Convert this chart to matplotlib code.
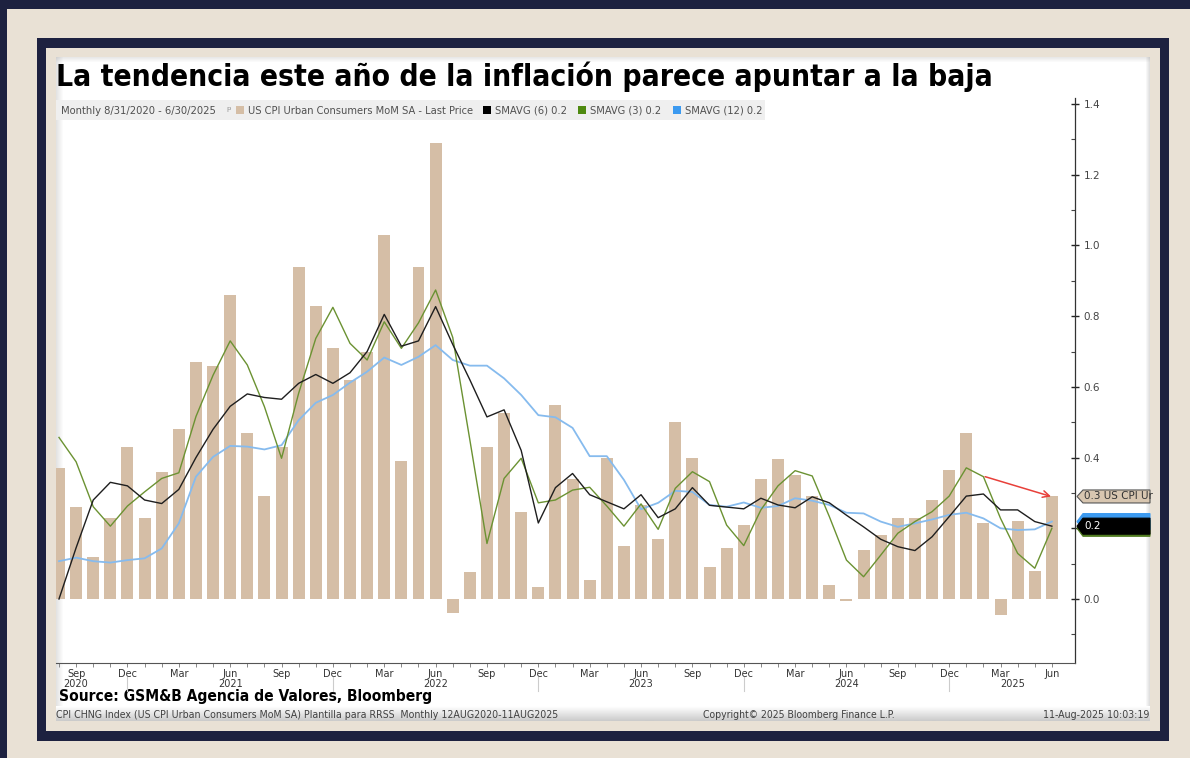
import matplotlib
matplotlib.use("Agg")
import matplotlib.pyplot as plt
import numpy as np
import pandas as pd
from matplotlib.patches import Rectangle, Polygon
from matplotlib.transforms import blended_transform_factory
from matplotlib.ticker import FixedLocator, MultipleLocator

# ---------------- data ----------------
months = pd.date_range("2020-08-31", periods=59, freq="ME")

cpi_mom = [0.37, 0.26, 0.12, 0.23, 0.43,
           0.23, 0.36, 0.48, 0.67, 0.66, 0.86, 0.47, 0.29, 0.43, 0.94, 0.83, 0.71,
           0.62, 0.70, 1.03, 0.39, 0.94, 1.29, -0.04, 0.075, 0.43, 0.525, 0.245, 0.035,
           0.55, 0.34, 0.055, 0.40, 0.15, 0.265, 0.17, 0.50, 0.40, 0.09, 0.145, 0.21,
           0.34, 0.395, 0.35, 0.29, 0.04, -0.005, 0.14, 0.18, 0.23, 0.23, 0.28, 0.365,
           0.47, 0.215, -0.045, 0.22, 0.08, 0.29]

sma6 = [0.00, 0.145, 0.28, 0.33, 0.32,
        0.28, 0.27, 0.31, 0.40, 0.48, 0.545, 0.58, 0.57, 0.565, 0.61, 0.635, 0.61,
        0.64, 0.70, 0.805, 0.715, 0.73, 0.827, 0.72, 0.62, 0.515, 0.535, 0.42, 0.215,
        0.315, 0.355, 0.295, 0.275, 0.255, 0.295, 0.23, 0.255, 0.315, 0.265, 0.26, 0.255,
        0.285, 0.266, 0.258, 0.289, 0.272, 0.237, 0.204, 0.169, 0.148, 0.137, 0.176, 0.233,
        0.291, 0.297, 0.252, 0.252, 0.219, 0.206]

sma3 = [0.457, 0.388, 0.261, 0.206, 0.263,
        0.303, 0.341, 0.357, 0.516, 0.633, 0.730, 0.662, 0.544, 0.398, 0.582, 0.737, 0.825,
        0.723, 0.676, 0.784, 0.709, 0.781, 0.874, 0.74, 0.45, 0.157, 0.341, 0.398, 0.272,
        0.280, 0.308, 0.316, 0.263, 0.206, 0.269, 0.197, 0.313, 0.360, 0.332, 0.209, 0.151,
        0.252, 0.320, 0.363, 0.348, 0.233, 0.110, 0.063, 0.124, 0.186, 0.219, 0.247, 0.291,
        0.371, 0.346, 0.228, 0.129, 0.087, 0.200]

sma12 = [0.107, 0.117, 0.107, 0.103, 0.110,
         0.115, 0.143, 0.214, 0.346, 0.402, 0.433, 0.431, 0.423, 0.435, 0.506, 0.555, 0.577,
         0.612, 0.643, 0.683, 0.662, 0.685, 0.718, 0.676, 0.660, 0.660, 0.624, 0.577, 0.520,
         0.514, 0.484, 0.404, 0.404, 0.337, 0.254, 0.272, 0.306, 0.303, 0.266, 0.261, 0.273,
         0.258, 0.263, 0.285, 0.278, 0.266, 0.244, 0.242, 0.219, 0.204, 0.214, 0.225, 0.238,
         0.244, 0.228, 0.200, 0.195, 0.197, 0.219]

y_ticks = [0.0, 0.2, 0.4, 0.6, 0.8, 1.0, 1.2, 1.4]
arrow_from = (54.1, 0.346)   # (month index, value)
arrow_to = (57.95, 0.29)

title = "La tendencia este año de la inflación parece apuntar a la baja"
legend_period = "Monthly 8/31/2020 - 6/30/2025"
legend_labels = ["US CPI Urban Consumers MoM SA - Last Price", "SMAVG (6) 0.2",
                 "SMAVG (3) 0.2", "SMAVG (12) 0.2"]
source = "Source: GSM&B Agencia de Valores, Bloomberg"
footer_left = "CPI CHNG Index (US CPI Urban Consumers MoM SA) Plantilla para RRSS  Monthly 12AUG2020-11AUG2025"
footer_mid = "Copyright\u00a9 2025 Bloomberg Finance L.P."
footer_right = "11-Aug-2025 10:03:19"

# ---------------- style ----------------
C_BAR = "#d5bea6"
C_BLACK = "#1e1e1e"
C_GREEN = "#6b9232"
C_BLUE = "#86bbee"
C_RED = "#e8403a"
C_NAVY = "#1d2140"
C_BEIGE = "#e9e1d5"
W, H = 1190, 758

fig = plt.figure(figsize=(W / 100, H / 100), dpi=100)
fig.patch.set_facecolor(C_BEIGE)
renderer = fig.canvas.get_renderer()

# background / frame axes in pixel coordinates
bg = fig.add_axes([0, 0, 1, 1], zorder=-5)
bg.set_xlim(0, W)
bg.set_ylim(H, 0)
bg.axis("off")

def rect(x0, y0, x1, y1, color, **kw):
    bg.add_patch(Rectangle((x0, y0), x1 - x0, y1 - y0, facecolor=color,
                           edgecolor="none", **kw))

rect(0, 0, W, H, C_BEIGE)
rect(0, 0, 7, H, C_NAVY)
rect(0, 0, W, 9, C_NAVY)
rect(37, 38, 1169, 741, C_NAVY)
rect(46, 48, 1160, 731, C_BEIGE)
rect(56, 57, 1150, 721, "white")
# soft shadows on panel edges
for i in range(7):
    a = 0.22 * (1 - i / 7)
    rect(56 + i, 57, 57 + i, 721, "#808080", alpha=a)
for i in range(5):
    a = 0.18 * (1 - i / 5)
    rect(56, 57 + i, 1150, 58 + i, "#808080", alpha=a)
for i in range(4):
    a = 0.25 * (1 - i / 4)
    rect(1149 - i, 57, 1150 - i, 721, "#808080", alpha=a)
# footer gradient strip
grad = np.linspace(1.0, 0.80, 15).reshape(-1, 1)
bg.imshow(np.dstack([grad, grad, grad]), extent=[56, 1150, 721, 706], aspect="auto",
          interpolation="bilinear", zorder=1)
# legend strip
rect(56, 100, 765, 120, "#efefef", zorder=1)

def fit_text(x, y, s, width_px, size0=10, **kw):
    t = bg.text(x, y, s, fontsize=size0, zorder=3, **kw)
    w = t.get_window_extent(renderer).width
    t.set_fontsize(size0 * width_px / w)
    return t

COND = dict(family="DejaVu Sans", stretch="condensed")

fit_text(56, 86, title, 937, 20, fontweight="bold", color="black", va="baseline", **COND)

fit_text(61, 110.5, legend_period, 156, 8, color="#505050", va="center", **COND)
bg.text(229, 110.5, "\u1d56", fontsize=8, color="#909090", va="center", ha="center", zorder=3)
leg_x = [(236, 248, 223), (483, 495, 72), (578, 590, 71), (673, 685, 78)]
leg_c = [C_BAR, "#000000", "#4f8a10", "#3c9af0"]
for (sx, tx, tw), col, lab in zip(leg_x, leg_c, legend_labels):
    rect(sx, 106, sx + 8, 114, col, zorder=2)
    fit_text(tx, 110.5, lab, tw, 8, color="#505050", va="center", **COND)

fit_text(59, 697, source, 372, 12, fontweight="bold", color="black", va="center", **COND)
fit_text(56, 715, footer_left, 501, 7, color="#404040", va="center", **COND)
fit_text(703, 715, footer_mid, 194, 7, color="#404040", va="center", **COND)
fit_text(1043, 715, footer_right, 106, 7, color="#404040", va="center", **COND)

# ---------------- main chart ----------------
ax_left, ax_right, ax_top, ax_bot = 56, 1075, 98, 663
ax = fig.add_axes([ax_left / W, (H - ax_bot) / H, (ax_right - ax_left) / W,
                   (ax_bot - ax_top) / H], zorder=2)
ax.set_facecolor("none")

x = np.arange(len(months))
ax.bar(x, cpi_mom, width=0.7, color=C_BAR, zorder=2)
ax.plot(x, sma12, color=C_BLUE, lw=1.3, zorder=3)
ax.plot(x, sma3, color=C_GREEN, lw=1.0, zorder=4)
ax.plot(x, sma6, color=C_BLACK, lw=1.0, zorder=5)

ax.annotate("", xy=arrow_to, xytext=arrow_from,
            arrowprops=dict(arrowstyle="->", color=C_RED, lw=1.1,
                            mutation_scale=12, shrinkA=0, shrinkB=0), zorder=6)

ax.set_xlim(-0.175, 59.35)
ax.set_ylim(-0.181, 1.417)

for sp in ["left", "top"]:
    ax.spines[sp].set_visible(False)
ax.spines["right"].set_color("#333333")
ax.spines["bottom"].set_color("#555555")
ax.spines["right"].set_linewidth(0.9)
ax.spines["bottom"].set_linewidth(0.8)

# the 0.2 tick label is hidden behind the last-value tags in the reference
ax.yaxis.tick_right()
ax.set_yticks(y_ticks)
ax.set_yticklabels(["" if abs(v - 0.2) < 1e-9 else f"{v:.1f}" for v in y_ticks])
ax.yaxis.set_minor_locator(MultipleLocator(0.1))
ax.tick_params(axis="y", which="major", direction="inout", length=6, width=1.0,
               labelsize=7.5, labelcolor="#444444", color="#222222", pad=3)
ax.tick_params(axis="y", which="minor", direction="in", length=3, width=0.8,
               color="#444444")

abbr = {3: "Mar", 6: "Jun", 9: "Sep", 12: "Dec"}
tick_pos = [i for i, m in enumerate(months) if m.month in abbr]
ax.xaxis.set_major_locator(FixedLocator(tick_pos))
ax.set_xticklabels([abbr[months[i].month] for i in tick_pos])
ax.xaxis.set_minor_locator(FixedLocator(list(x)))
ax.tick_params(axis="x", which="both", direction="out", length=3, width=0.7,
               color="#888888", labelsize=7, labelcolor="#333333", pad=1.5)

tr = blended_transform_factory(ax.transData, ax.transAxes)
px = 1.0 / (ax_bot - ax_top)  # one pixel in axes-y units
years = sorted(set(m.year for m in months))
for yr in years:
    idx = [i for i, m in enumerate(months) if m.year == yr]
    if yr == 2020:
        xc = idx[1]
    elif yr == years[-1]:
        xc = (idx[0] + idx[-1]) / 2 + 0.2
    else:
        xc = [i for i in idx if months[i].month == 6][0]
    ax.text(xc, -21 * px, str(yr), transform=tr, ha="center", va="center",
            fontsize=7, color="#333333", clip_on=False)
for i, m in enumerate(months):
    if m.month == 12:
        ax.plot([i, i], [-14 * px, -28 * px], transform=tr, color="#cccccc",
                lw=0.8, clip_on=False)

# last-value tags on the right
ta = blended_transform_factory(ax.transAxes, ax.transData)
dpx_y = (1.417 + 0.181) / (ax_bot - ax_top)
dpx_x = 1.0 / (ax_right - ax_left)

def tag(val, half_px, face, edge, label=None, tcolor="white"):
    h = half_px * dpx_y
    x0 = 1 + 2 * dpx_x
    x1 = 1 + 8 * dpx_x
    x2 = 1 + (1150 - ax_right) * dpx_x
    poly = Polygon([(x0, val), (x1, val + h), (x2, val + h), (x2, val - h), (x1, val - h)],
                   closed=True, facecolor=face, edgecolor=edge, lw=0.8,
                   transform=ta, clip_on=False, zorder=7)
    ax.add_patch(poly)
    if label:
        ax.text(1 + 9 * dpx_x, val, label, transform=ta, va="center", ha="left",
                fontsize=7.5, color=tcolor, clip_on=False, zorder=8)

tag(cpi_mom[-1], 6.5, "#d8c6b0", "#555555", f"{cpi_mom[-1]:.1f} US CPI Ur", "#333333")
tag(sma3[-1], 8, "#4f7a1f", "#4f7a1f")
tag(sma12[-1], 8, "#3c9af0", "#3c9af0")
tag(sma6[-1], 8, "#000000", "#000000", f"{sma6[-1]:.1f}", "white")

fig.savefig("out.png", dpi=100, facecolor=fig.get_facecolor())
